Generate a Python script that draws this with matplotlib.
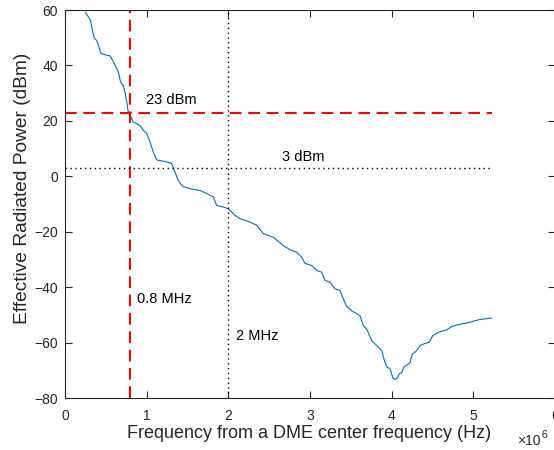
import matplotlib
matplotlib.use("Agg")
import matplotlib.pyplot as plt
import numpy as np
from matplotlib.ticker import FuncFormatter

plt.rcParams['font.family'] = ['Liberation Sans', 'DejaVu Sans']

# Curve data (frequency in MHz, ERP in dBm)
freq_mhz = [0.251, 0.285, 0.312, 0.334, 0.359, 0.388, 0.408, 0.441, 0.511, 0.551,
            0.591, 0.624, 0.653, 0.680, 0.714, 0.735, 0.755, 0.775, 0.796, 0.836,
            0.918, 0.959, 1.000, 1.041, 1.081, 1.123, 1.245, 1.306, 1.347, 1.387,
            1.439, 1.531, 1.653, 1.755, 1.816, 1.857, 1.938, 2.000, 2.082, 2.143,
            2.265, 2.347, 2.428, 2.551, 2.673, 2.755, 2.837, 2.898, 2.939, 3.021,
            3.082, 3.143, 3.184, 3.245, 3.306, 3.367, 3.408, 3.449, 3.510, 3.612,
            3.653, 3.694, 3.755, 3.817, 3.878, 3.918, 3.946, 3.979, 4.012, 4.041,
            4.069, 4.093, 4.123, 4.151, 4.191, 4.224, 4.253, 4.298, 4.347, 4.408,
            4.461, 4.502, 4.571, 4.674, 4.735, 4.816, 4.938, 5.000, 5.061, 5.122,
            5.225]
erp_dbm = [59.1, 57.6, 56.2, 52.8, 49.8, 49.0, 47.3, 44.3, 43.7, 43.5,
           41.4, 39.4, 37.7, 34.1, 32.7, 30.2, 26.9, 23.1, 22.2, 19.6,
           18.4, 16.6, 15.4, 12.4, 8.7, 5.9, 5.2, 4.6, 1.5, -1.5,
           -3.6, -4.5, -5.1, -6.5, -7.5, -10.5, -11.1, -11.7, -14.1, -15.3,
           -16.5, -17.7, -20.7, -22.0, -25.0, -26.5, -27.4, -29.2, -31.4, -32.2,
           -34.0, -34.6, -37.6, -38.2, -40.6, -41.2, -44.2, -47.0, -48.5, -50.3,
           -53.9, -55.1, -59.3, -61.1, -62.9, -67.2, -69.0, -69.3, -72.6, -73.3,
           -72.8, -71.3, -70.8, -68.7, -68.0, -67.2, -64.1, -63.2, -61.1, -60.3,
           -59.9, -57.5, -56.3, -55.4, -54.2, -53.5, -52.8, -52.3, -51.8, -51.5,
           -51.2]

limit_23 = 23
limit_3 = 3
f_08 = 0.8e6
f_2 = 2e6
x_ticks = [0, 1, 2, 3, 4, 5, 6]
y_ticks = [-80, -60, -40, -20, 0, 20, 40, 60]

freq_hz = np.array(freq_mhz) * 1e6
f_end = freq_hz[-1]

W, H = 554, 450
fig = plt.figure(figsize=(W / 100, H / 100), dpi=100)
ax = fig.add_axes([65 / W, 52 / H, 490 / W, 388 / H])

gray = '#262626'
ax.plot(freq_hz, erp_dbm, color='#0072BD', lw=0.8)
ax.plot([0, f_end], [limit_23, limit_23], color='#FF0000', lw=1.5, dashes=(5.6, 3.2))
ax.plot([f_08, f_08], [-80, 60], color='#FF0000', lw=1.5, dashes=(5.6, 3.2))
ax.plot([0, f_end], [limit_3, limit_3], color='black', lw=1.0, linestyle=(0, (1, 2.5)))
ax.plot([f_2, f_2], [-80, 60], color='black', lw=1.0, linestyle=(0, (1, 2.5)))

ax.text(0.99e6, 27.5, '23 dBm', fontsize=10.5, color='black', va='center', ha='left')
ax.text(2.66e6, 6.9, '3 dBm', fontsize=10.5, color='black', va='center', ha='left')
ax.text(0.88e6, -44.1, '0.8 MHz', fontsize=10.5, color='black', va='center', ha='left')
ax.text(2.1e6, -57.5, '2 MHz', fontsize=10.5, color='black', va='center', ha='left')

ax.set_xlim(0, 6e6)
ax.set_ylim(-80, 60)
ax.set_xticks([t * 1e6 for t in x_ticks])
ax.xaxis.set_major_formatter(FuncFormatter(lambda v, p: f'{v/1e6:g}'))
ax.set_yticks(y_ticks)
ax.tick_params(direction='in', length=5, width=0.8, colors=gray, labelsize=10,
               top=True, right=True, labelcolor=gray)
ax.tick_params(axis='x', pad=8)
ax.tick_params(axis='y', pad=5)
for s in ax.spines.values():
    s.set_color(gray)
    s.set_linewidth(0.8)

fig.text(309.5 / W, 1 - 434 / H, 'Frequency from a DME center frequency (Hz)',
         fontsize=13, color=gray, ha='center', va='center')
fig.text(23 / W, 1 - 188.5 / H, 'Effective Radiated Power (dBm)',
         fontsize=13.8, color=gray, ha='center', va='center', rotation=90)
fig.text(517 / W, 1 - 441 / H, '×10', fontsize=10, color=gray, va='center', ha='left')
fig.text(541 / W, 1 - 435 / H, '6', fontsize=7.5, color=gray, va='center', ha='left')

fig.savefig('out.png', dpi=100)
